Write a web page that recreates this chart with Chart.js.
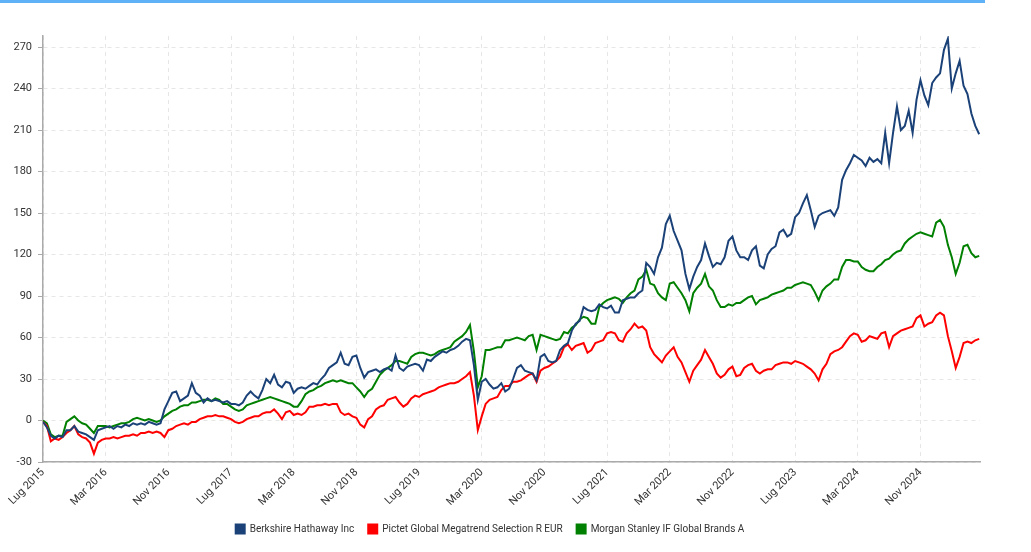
<!DOCTYPE html>
<html><head><meta charset="utf-8">
<script src="https://cdn.jsdelivr.net/npm/chart.js@4"></script>
<style>
html,body{margin:0;padding:0;background:#fff;}
#wrap{position:relative;width:1031px;height:552px;overflow:hidden;}
#bar{position:absolute;left:0;top:0;width:985px;height:3px;background:#5eb0f7;}
canvas{position:absolute;left:0;top:0;}
</style></head><body>
<div id="wrap"><div id="bar"></div><canvas id="c" width="1031" height="552"></canvas></div>
<script>
// x = months since Lug 2015 (half-month samples)
const sampleStep = 0.5;
const sampleCount = 240;
const months = Array.from({length: sampleCount}, (_, i) => i * sampleStep);

const tickMonths = [0, 8, 16, 24, 32, 40, 48, 56, 64, 72, 80, 88, 96, 104, 112];
const tickLabels = ['Lug 2015','Mar 2016','Nov 2016','Lug 2017','Mar 2018','Nov 2018','Lug 2019','Mar 2020','Nov 2020','Lug 2021','Mar 2022','Nov 2022','Lug 2023','Mar 2024','Nov 2024'];
const yTicks = [-30, 0, 30, 60, 90, 120, 150, 180, 210, 240, 270];

const seriesNames = ['Berkshire Hathaway Inc', 'Pictet Global Megatrend Selection R EUR', 'Morgan Stanley IF Global Brands A'];

const berkshire = [
-1,-5,-11,-13,-11,-12,-7,-7,-4,-8,
-9,-10,-12,-14,-7,-6,-5,-4,-6,-4,
-5,-3,-4,-2,-3,-2,-3,-1,-2,-3,
-2,8,14,20,21,14,16,18,27,20,
18,13,16,14,15,14,13,14,12,12,
11,13,18,21,18,16,22,30,27,33,
26,24,28,27,20,23,24,23,25,27,
26,30,33,38,40,42,49,41,40,46,
47,38,31,35,36,37,35,37,38,36,
47,38,36,39,40,41,40,36,44,43,
46,48,50,49,51,52,54,57,59,58,
40,15,28,30,26,23,24,27,21,23,
30,38,40,36,35,34,29,46,48,43,
42,43,51,54,56,65,70,72,82,80,
79,80,84,82,81,83,78,78,87,88,
89,89,92,94,114,111,106,118,125,142,
148,137,130,123,106,95,104,111,116,128,
119,111,114,113,118,130,133,123,118,118,
116,123,126,112,110,120,124,126,136,138,
133,135,147,150,157,163,152,140,148,150,
151,152,148,154,174,181,186,192,190,188,
184,190,187,189,186,208,186,208,227,210,
213,224,208,232,246,235,228,244,248,251,
268,276,240,251,260,242,236,222,213,207
];

const pictet = [
-1,-4,-15,-13,-14,-12,-9,-7,-4,-10,
-12,-13,-16,-24,-16,-14,-13,-13,-12,-13,
-12,-11,-11,-10,-11,-9,-9,-8,-9,-8,
-9,-12,-7,-6,-4,-3,-2,-3,-1,-1,
1,2,3,3,4,3,3,2,1,-1,
-2,-1,1,2,3,3,5,6,6,8,
5,1,6,7,4,5,4,6,10,10,
11,11,12,11,12,12,6,4,5,3,
2,-3,-5,1,3,8,10,11,15,16,
17,13,10,12,16,18,17,19,20,21,
22,24,25,26,27,27,28,30,32,35,
18,-7,3,12,15,16,17,22,25,25,
28,28,29,31,33,34,28,36,38,39,
41,43,46,53,55,51,54,55,56,49,
51,56,57,58,63,64,63,58,57,63,
66,70,67,68,65,53,48,45,42,47,
50,53,46,42,35,28,36,40,44,51,
46,41,34,31,33,37,39,32,33,38,
40,41,36,34,36,37,37,40,41,42,
42,41,43,42,41,39,37,34,29,37,
41,48,50,51,53,57,61,63,62,57,
58,61,60,59,63,64,53,61,63,65,
66,67,68,74,76,68,70,71,76,78,
76,61,50,38,46,56,57,56,58,59
];

const morganStanley = [
0,-2,-10,-12,-11,-11,-1,1,3,0,
-2,-3,-6,-9,-4,-4,-4,-5,-4,-3,
-2,-2,-1,1,2,1,0,1,0,-1,
0,3,5,7,8,10,11,11,13,13,
14,15,15,14,16,15,12,12,10,8,
7,8,11,12,13,14,15,16,17,16,
15,14,13,12,10,10,14,19,21,22,
24,25,27,28,29,28,29,28,27,27,
24,21,17,21,23,28,33,36,38,40,
43,43,42,41,46,48,49,49,48,47,
48,50,51,52,53,57,59,61,64,69,
50,24,32,51,51,52,53,53,58,58,
59,60,59,58,61,62,51,62,61,60,
59,58,59,64,63,67,69,73,75,74,
70,70,82,85,87,88,89,88,85,89,
92,94,102,104,109,99,98,92,89,87,
99,100,96,92,87,79,92,96,99,106,
97,94,87,82,82,84,83,85,85,87,
89,90,84,87,88,89,91,92,93,94,
96,96,98,99,100,99,98,93,87,94,
97,99,102,102,111,116,116,115,115,111,
109,108,108,111,113,116,117,120,122,123,
128,131,133,135,136,135,134,133,143,145,
140,127,118,106,114,126,127,121,118,119
];

const seriesValues = [berkshire, pictet, morganStanley];
const seriesColors = ['#1b4278', '#ff0000', '#008000'];

const FONT = "Roboto, 'Liberation Sans', Arial, sans-serif";

new Chart(document.getElementById('c').getContext('2d'), {
  type: 'line',
  data: {
    datasets: seriesNames.map((name, i) => ({
      label: name,
      data: months.map((m, j) => ({x: m, y: seriesValues[i][j]})),
      borderColor: seriesColors[i],
      backgroundColor: seriesColors[i],
      borderWidth: 2,
      pointRadius: 0,
      tension: 0,
      fill: false
    }))
  },
  options: {
    responsive: false,
    animation: false,
    maintainAspectRatio: false,
    layout: {padding: {top: 36, right: 51, left: 0, bottom: 8}},
    plugins: {
      legend: {
        position: 'bottom',
        labels: {boxWidth: 9, boxHeight: 9, padding: 14, color: '#333', font: {family: FONT, size: 10}}
      },
      tooltip: {enabled: false}
    },
    scales: {
      x: {
        type: 'linear',
        min: 0,
        max: 119.6,
        afterBuildTicks: a => { a.ticks = tickMonths.map(v => ({value: v})); },
        afterFit: s => { s.height = 48; },
        ticks: {
          autoSkip: false, minRotation: 45, maxRotation: 45, padding: 4,
          color: '#333', font: {family: FONT, size: 11},
          callback: v => tickLabels[tickMonths.indexOf(v)]
        },
        grid: {color: '#e6e6e6', lineWidth: 1, drawTicks: false},
        border: {color: '#aaaaaa', width: 1.5, dash: [4, 4]}
      },
      y: {
        min: -30,
        max: 278,
        afterBuildTicks: a => { a.ticks = yTicks.map(v => ({value: v})); },
        afterFit: s => { s.width = 43; },
        ticks: {padding: 6, color: '#333', font: {family: FONT, size: 11}},
        grid: {color: '#e6e6e6', lineWidth: 1, tickColor: '#aaaaaa', tickLength: 5},
        border: {color: '#aaaaaa', width: 1.5, dash: [4, 4]}
      }
    }
  }
});
</script>
</body></html>
